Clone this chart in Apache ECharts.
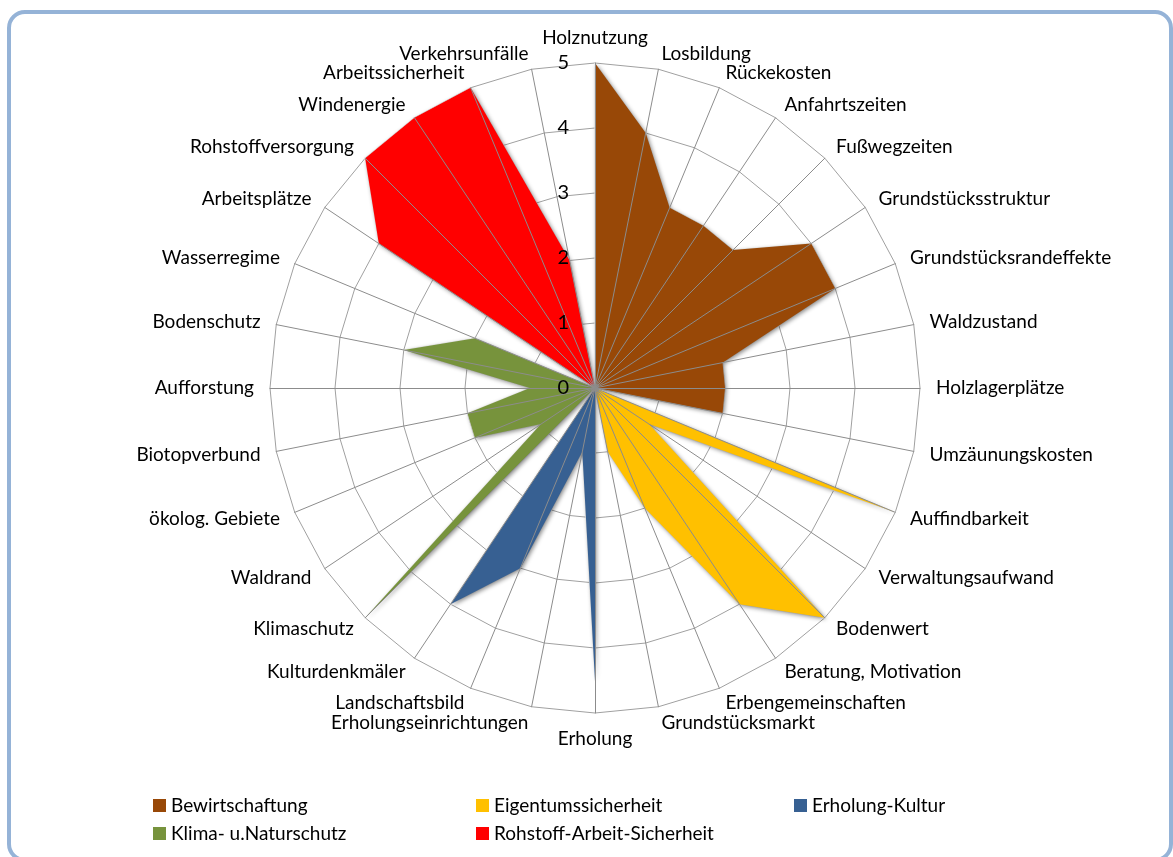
<!DOCTYPE html>
<html>
<head>
<meta charset="utf-8">
<script src="https://cdn.jsdelivr.net/npm/echarts@6/dist/echarts.min.js"></script>
<style>
  html, body { margin: 0; padding: 0; background: #fff; }
  #frame {
    position: absolute; left: 7px; top: 10px;
    width: 1166px; height: 852px; box-sizing: border-box;
    border: 4.5px solid #95b3d7; border-radius: 18px;
  }
  #chart { position: absolute; left: 0; top: 0; width: 1173px; height: 857px; }
</style>
</head>
<body>
<div id="frame"></div>
<div id="chart"></div>
<script>
// Kategorien im Uhrzeigersinn, beginnend oben
const kategorien = [
  "Holznutzung", "Losbildung", "Rückekosten", "Anfahrtszeiten", "Fußwegzeiten",
  "Grundstücksstruktur", "Grundstücksrandeffekte", "Waldzustand", "Holzlagerplätze",
  "Umzäunungskosten", "Auffindbarkeit", "Verwaltungsaufwand", "Bodenwert",
  "Beratung, Motivation", "Erbengemeinschaften", "Grundstücksmarkt", "Erholung",
  "Erholungseinrichtungen", "Landschaftsbild", "Kulturdenkmäler", "Klimaschutz",
  "Waldrand", "ökolog. Gebiete", "Biotopverbund", "Aufforstung", "Bodenschutz",
  "Wasserregime", "Arbeitsplätze", "Rohstoffversorgung", "Windenergie",
  "Arbeitssicherheit", "Verkehrsunfälle",
];

const bewirtschaftung = [5, 4, 3, 3, 3, 4, 4, 2, 2, 2, 0, 0, 0, 0, 0, 0, 0, 0, 0, 0, 0, 0, 0, 0, 0, 0, 0, 0, 0, 0, 0, 0];
const eigentumssicherheit = [0, 0, 0, 0, 0, 0, 0, 0, 0, 0, 5, 1, 5, 4, 2, 1, 0, 0, 0, 0, 0, 0, 0, 0, 0, 0, 0, 0, 0, 0, 0, 0];
const erholungKultur = [0, 0, 0, 0, 0, 0, 0, 0, 0, 0, 0, 0, 0, 0, 0, 0, 4.5, 1, 3, 4, 0, 0, 0, 0, 0, 0, 0, 0, 0, 0, 0, 0];
const klimaNaturschutz = [0, 0, 0, 0, 0, 0, 0, 0, 0, 0, 0, 0, 0, 0, 0, 0, 0, 0, 0, 0, 5, 1, 2, 2, 1, 3, 2, 0, 0, 0, 0, 0];
const rohstoffArbeit = [0, 0, 0, 0, 0, 0, 0, 0, 0, 0, 0, 0, 0, 0, 0, 0, 0, 0, 0, 0, 0, 0, 0, 0, 0, 0, 0, 4, 5, 5, 5, 2];

const skalaMax = 5;

const serien = [
  { name: "Bewirtschaftung", werte: bewirtschaftung, farbe: "#984807" },
  { name: "Eigentumssicherheit", werte: eigentumssicherheit, farbe: "#ffc000" },
  { name: "Erholung-Kultur", werte: erholungKultur, farbe: "#376092" },
  { name: "Klima- u.Naturschutz", werte: klimaNaturschutz, farbe: "#77933c" },
  { name: "Rohstoff-Arbeit-Sicherheit", werte: rohstoffArbeit, farbe: "#ff0000" },
];

// echarts legt die Achsen gegen den Uhrzeigersinn an -> Reihenfolge umdrehen (erste bleibt oben)
const umdrehen = (arr) => [arr[0]].concat(arr.slice(1).reverse());

const schrift = "Lato, 'Open Sans', sans-serif";

const indikatoren = umdrehen(kategorien).map((k) => ({ name: k, min: 0, max: skalaMax }));
const indikatorenOben = umdrehen(kategorien).map((k, i) => {
  const ind = { name: k, min: 0, max: skalaMax };
  if (i === 0) {
    ind.axisLabel = {
      show: true,
      color: "#000",
      fontSize: 20,
      fontFamily: schrift,
      margin: 26,
    };
  }
  return ind;
});

const legendeBasis = {
  top: 791, orient: "vertical", itemGap: 9,
  itemWidth: 13, itemHeight: 13, icon: "rect",
  textStyle: { fontSize: 19, fontFamily: schrift, color: "#000" },
};

const chart = echarts.init(document.getElementById("chart"));

chart.setOption({
  backgroundColor: "transparent",
  animation: false,
  legend: [
    { ...legendeBasis, left: 148, data: ["Bewirtschaftung", "Klima- u.Naturschutz"] },
    { ...legendeBasis, left: 471, data: ["Eigentumssicherheit", "Rohstoff-Arbeit-Sicherheit"] },
    { ...legendeBasis, left: 789, data: ["Erholung-Kultur"] },
  ],
  radar: [
    {
      center: [595, 388],
      radius: 325,
      startAngle: 90,
      splitNumber: 5,
      shape: "polygon",
      indicator: indikatoren,
      axisName: { color: "#000", fontSize: 19, fontFamily: schrift },
      axisNameGap: 16,
      splitLine: { lineStyle: { color: "#a0a0a0", width: 1 } },
      splitArea: { show: false },
      axisLine: { show: false },
      axisLabel: { show: false },
    },
    {
      center: [595, 388],
      radius: 325,
      startAngle: 90,
      splitNumber: 5,
      shape: "polygon",
      z: 5,
      indicator: indikatorenOben,
      axisName: { show: false },
      splitLine: { show: false },
      splitArea: { show: false },
      axisLine: { lineStyle: { color: "#8c8c8c", width: 1 } },
      axisLabel: { show: false },
    },
  ],
  series: serien.map((s) => ({
    name: s.name,
    type: "radar",
    radarIndex: 0,
    symbol: "none",
    color: s.farbe,
    lineStyle: { color: "#f2f2f2", width: 1.2 },
    areaStyle: {
      color: s.farbe,
      opacity: 1,
      shadowBlur: 4,
      shadowColor: "rgba(0,0,0,0.45)",
      shadowOffsetX: 1.5,
      shadowOffsetY: 1.5,
    },
    data: [{ name: s.name, value: umdrehen(s.werte) }],
  })),
});
</script>
</body>
</html>
